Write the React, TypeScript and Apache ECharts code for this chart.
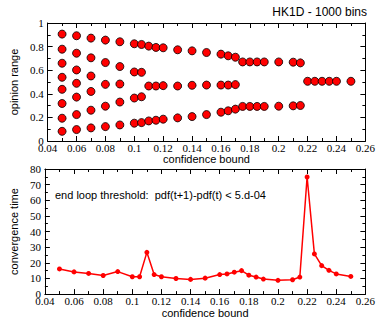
import React, { useEffect, useRef } from "react";
import * as echarts from "echarts";

const confidence = [0.05, 0.06, 0.07, 0.08, 0.09, 0.1, 0.105, 0.11, 0.115, 0.12, 0.13, 0.14, 0.15, 0.16, 0.165, 0.17, 0.175, 0.18, 0.185, 0.19, 0.2, 0.21, 0.215, 0.22, 0.225, 0.23, 0.235, 0.24, 0.25];

const opinionClusters = [
  [0.906, 0.778, 0.659, 0.54, 0.438, 0.318, 0.193, 0.082],
  [0.892, 0.744, 0.602, 0.489, 0.372, 0.224, 0.097],
  [0.872, 0.705, 0.551, 0.42, 0.261, 0.111],
  [0.855, 0.665, 0.48, 0.295, 0.122],
  [0.841, 0.631, 0.483, 0.33, 0.136],
  [0.824, 0.585, 0.364, 0.151],
  [0.818, 0.582, 0.375, 0.156],
  [0.804, 0.466, 0.17],
  [0.793, 0.466, 0.176],
  [0.79, 0.469, 0.185],
  [0.773, 0.466, 0.196],
  [0.764, 0.472, 0.207],
  [0.75, 0.474, 0.224],
  [0.736, 0.474, 0.244],
  [0.722, 0.474, 0.256],
  [0.71, 0.478, 0.27],
  [0.67, 0.293],
  [0.67, 0.293],
  [0.67, 0.293],
  [0.67, 0.293],
  [0.67, 0.295],
  [0.668, 0.298],
  [0.662, 0.301],
  [0.506],
  [0.506],
  [0.506],
  [0.506],
  [0.506],
  [0.506],
];

const convergenceTime = [16.1, 14.2, 13.2, 11.9, 14.4, 11.1, 11.1, 26.7, 12.5, 11.1, 10.0, 9.4, 10.2, 12.5, 12.9, 14.0, 15.0, 12.1, 10.9, 9.6, 8.8, 9.2, 10.9, 74.9, 25.7, 18.2, 15.2, 12.9, 11.3];

const titleText = "HK1D - 1000 bins";
const noteText = "end loop threshold:  pdf(t+1)-pdf(t) < 5.d-04";
const xName = "confidence bound";
const yNameTop = "opinion range";
const yNameBottom = "convergence time";

const serif = "'Liberation Serif', 'DejaVu Serif', serif";
const sans = "'Liberation Sans', Arial, sans-serif";

function mainX(gridIndex: number, nameGap: number) {
  return {
    type: "value",
    gridIndex,
    min: 0.04,
    max: 0.26,
    interval: 0.02,
    name: xName,
    nameLocation: "middle",
    nameGap,
    nameTextStyle: { fontFamily: sans, fontSize: 11, color: "#000" },
    axisLine: { show: true, onZero: false, lineStyle: { color: "#000", width: 1 } },
    axisTick: { show: true, inside: true, length: 5, lineStyle: { color: "#000" } },
    minorTick: { show: true, splitNumber: 2, length: 3, lineStyle: { color: "#000" } },
    axisLabel: { fontFamily: serif, fontSize: 11, color: "#000", margin: 1 },
    splitLine: { show: false },
    minorSplitLine: { show: false },
  };
}

function mirrorX(gridIndex: number) {
  return {
    type: "value",
    gridIndex,
    position: "top",
    min: 0.04,
    max: 0.26,
    interval: 0.02,
    axisLine: { show: true, onZero: false, lineStyle: { color: "#000", width: 1 } },
    axisTick: { show: true, inside: true, length: 5, lineStyle: { color: "#000" } },
    minorTick: { show: true, splitNumber: 2, length: 3, lineStyle: { color: "#000" } },
    axisLabel: { show: false },
    splitLine: { show: false },
  };
}

function mainY(gridIndex: number, max: number, interval: number, name: string) {
  return {
    type: "value",
    gridIndex,
    min: 0,
    max,
    interval,
    name,
    nameLocation: "middle",
    nameGap: 19,
    nameTextStyle: { fontFamily: sans, fontSize: 11, color: "#000" },
    axisLine: { show: true, onZero: false, lineStyle: { color: "#000", width: 1 } },
    axisTick: { show: true, inside: true, length: 5, lineStyle: { color: "#000" } },
    minorTick: { show: true, splitNumber: 2, length: 3, lineStyle: { color: "#000" } },
    axisLabel: { fontFamily: serif, fontSize: 11, color: "#000", margin: 4 },
    splitLine: { show: false },
  };
}

function mirrorY(gridIndex: number, max: number, interval: number) {
  return {
    type: "value",
    gridIndex,
    position: "right",
    min: 0,
    max,
    interval,
    axisLine: { show: true, onZero: false, lineStyle: { color: "#000", width: 1 } },
    axisTick: { show: true, inside: true, length: 5, lineStyle: { color: "#000" } },
    minorTick: { show: true, splitNumber: 2, length: 3, lineStyle: { color: "#000" } },
    axisLabel: { show: false },
    splitLine: { show: false },
  };
}

export default function App() {
  const ref = useRef<HTMLDivElement>(null);
  useEffect(() => {
    if (!ref.current) return;
    const chart = echarts.init(ref.current, null, { renderer: "svg" });
    const scatterData: number[][] = [];
    confidence.forEach((c, i) => {
      opinionClusters[i].forEach((v) => scatterData.push([c, v]));
    });
    const lineData = confidence.map((c, i) => [c, convergenceTime[i]]);
    chart.setOption({
      animation: false,
      backgroundColor: "#fff",
      grid: [
        { left: 28, right: 11, top: 23, height: 118 },
        { left: 28, right: 11, top: 169, height: 128 },
      ],
      xAxis: [mainX(0, 11), mirrorX(0), mainX(1, 10), mirrorX(1)],
      yAxis: [
        mainY(0, 1, 0.2, yNameTop),
        mirrorY(0, 1, 0.2),
        mainY(1, 80, 10, yNameBottom),
        mirrorY(1, 80, 10),
      ],
      graphic: [
        {
          type: "text",
          right: 11,
          top: 6,
          style: { text: titleText, fontFamily: sans, fontSize: 12, fill: "#000" },
        },
        {
          type: "text",
          left: 55,
          top: 189,
          style: { text: noteText, fontFamily: sans, fontSize: 11, fill: "#000" },
        },
      ],
      series: [
        {
          type: "scatter",
          xAxisIndex: 0,
          yAxisIndex: 0,
          data: scatterData,
          symbol: "circle",
          symbolSize: 8,
          itemStyle: { color: "#ff0000", borderColor: "#000", borderWidth: 0.8, opacity: 1 },
        },
        {
          type: "line",
          xAxisIndex: 2,
          yAxisIndex: 2,
          data: lineData,
          symbol: "circle",
          symbolSize: 5,
          showSymbol: true,
          lineStyle: { color: "#ff0000", width: 1.5 },
          itemStyle: { color: "#ff0000", borderWidth: 0 },
        },
      ],
    });
    return () => chart.dispose();
  }, []);
  return <div ref={ref} style={{ position: "fixed", left: 0, top: 0, width: 378, height: 319 }} />;
}
